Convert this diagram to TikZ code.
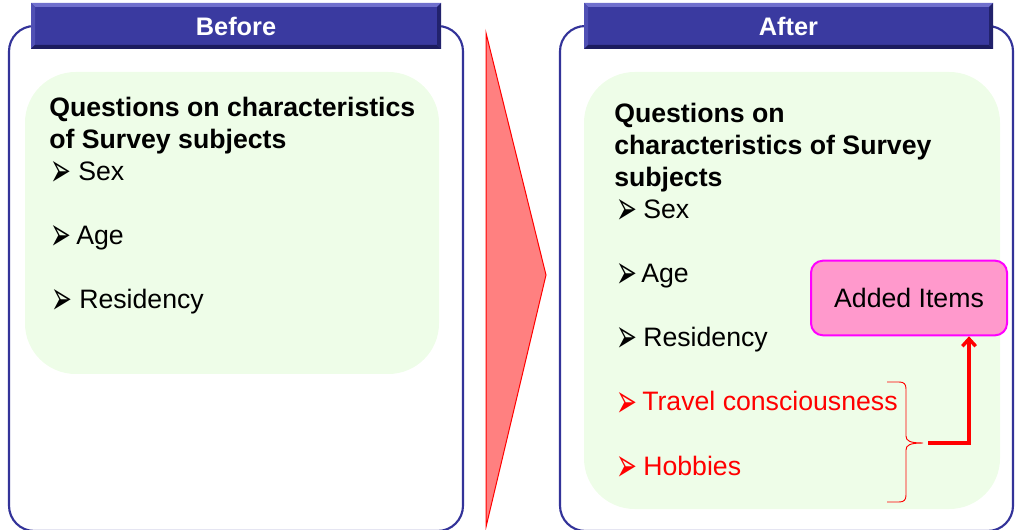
\documentclass[tikz,border=0pt]{standalone}
\usepackage{fontspec}
\setmainfont{Liberation Sans}
\newfontfamily\dejavu{DejaVu Sans}
\usetikzlibrary{arrows.meta}
\definecolor{navy}{RGB}{51,51,153}
\definecolor{hdrfill}{RGB}{58,58,160}
\definecolor{hdrlight}{RGB}{112,112,205}
\definecolor{hdrmid}{RGB}{80,80,180}
\definecolor{hdrdark}{RGB}{28,28,95}
\definecolor{greenbg}{RGB}{238,253,232}
\definecolor{pinkfill}{RGB}{255,153,204}
\definecolor{magentab}{RGB}{255,0,255}
\definecolor{arrowfill}{RGB}{255,128,128}
\newcommand\bulletglyph{\scalebox{0.85}[1.6]{➢}}
\begin{document}
\begin{tikzpicture}[x=0.75pt,y=-0.75pt,
  outerbox/.style={draw=navy,line width=1.6pt,rounded corners=19pt},
  greenbox/.style={fill=greenbg,rounded corners=38pt},
  hdr/.style={minimum width=307.5pt,minimum height=34.5pt,inner sep=0pt,
    fill=hdrfill,text=white,font=\bfseries\fontsize{19}{23}\selectfont,
    path picture={
      \fill[hdrlight] (path picture bounding box.north west) -- (path picture bounding box.north east)
        -- ([xshift=-3pt,yshift=-3pt]path picture bounding box.north east)
        -- ([xshift=3pt,yshift=-3pt]path picture bounding box.north west) -- cycle;
      \fill[hdrmid] (path picture bounding box.north west) -- ([xshift=3pt,yshift=-3pt]path picture bounding box.north west)
        -- ([xshift=3pt,yshift=3pt]path picture bounding box.south west) -- (path picture bounding box.south west) -- cycle;
      \fill[hdrdark] (path picture bounding box.south west) -- (path picture bounding box.south east)
        -- ([xshift=-3pt,yshift=3pt]path picture bounding box.south east)
        -- ([xshift=3pt,yshift=3pt]path picture bounding box.south west) -- cycle;
      \fill[hdrdark!80!hdrfill] (path picture bounding box.north east) -- ([xshift=-3pt,yshift=-3pt]path picture bounding box.north east)
        -- ([xshift=-3pt,yshift=3pt]path picture bounding box.south east) -- (path picture bounding box.south east) -- cycle;
    }},
  ttl/.style={anchor=base west,inner sep=0pt,font=\bfseries\fontsize{20}{24}\selectfont},
  itm/.style={anchor=base west,inner sep=0pt,font=\fontsize{20}{24}\selectfont},
  bul/.style={anchor=base west,inner sep=0pt,font=\dejavu\fontsize{22}{26}\selectfont},
  newitm/.style={text=red},
  addbox/.style={draw=magentab,fill=pinkfill,line width=1.5pt,rounded corners=9pt,
    minimum width=147pt,minimum height=56pt,inner sep=0pt,font=\fontsize{20}{24}\selectfont},
  bracestyle/.style={draw=red,line width=0.7pt},
  addarrow/.style={draw=red,line width=2.6pt,-{Straight Barb[length=5.5pt,width=10pt]}}
]
\useasboundingbox (0,0) rectangle (1016,530);

% outer panels
\draw[outerbox] (9,26) rectangle (463,531);
\draw[outerbox] (560,26) rectangle (1013,531);

% green content areas
\fill[greenbox] (25,72) rectangle (439,374);
\fill[greenbox] (584,72) rectangle (1000,509);

% headers
\node[hdr] (hbefore) at (236,26) {Before};
\node[hdr,minimum width=306.75pt] (hafter) at (788.5,26) {After};

% transition arrow
\filldraw[fill=arrowfill,draw=red,line width=0.75pt] (486,33) -- (546,275) -- (486,527) -- cycle;

% left content
\node[ttl] (lt1) at (49,117) {Questions on characteristics};
\node[ttl] (lt2) at (49,149) {of Survey subjects};
\node[bul] (lb1) at (50,187) {\bulletglyph};
\node[itm] (li1) at (78,181) {Sex};
\node[bul] (lb2) at (50,251) {\bulletglyph};
\node[itm] (li2) at (76,245) {Age};
\node[bul] (lb3) at (51,315) {\bulletglyph};
\node[itm] (li3) at (79,309) {Residency};

% right content
\node[ttl] (rt1) at (614,123) {Questions on};
\node[ttl] (rt2) at (614,155) {characteristics of Survey};
\node[ttl] (rt3) at (614,187) {subjects};
\node[bul] (rb1) at (616,225) {\bulletglyph};
\node[itm] (ri1) at (643,219) {Sex};
\node[bul] (rb2) at (616,289) {\bulletglyph};
\node[itm] (ri2) at (641,283) {Age};
\node[bul] (rb3) at (616,353) {\bulletglyph};
\node[itm] (ri3) at (643,347) {Residency};
\node[bul,newitm] (rb4) at (616,417) {\bulletglyph};
\node[itm,newitm] (ri4) at (642,411) {Travel consciousness};
\node[bul,newitm] (rb5) at (616,481) {\bulletglyph};
\node[itm,newitm] (ri5) at (643,475) {Hobbies};

% added items box
\node[addbox] (added) at (909,298) {Added Items};

% brace
\coordinate (brtip) at (923,443);
\draw[bracestyle] (887,382) -- (899,382) .. controls (904,382) and (906,384) .. (906,389)
  -- (906,436) .. controls (906,441) and (910,443) .. (brtip)
  .. controls (910,443) and (906,445) .. (906,450)
  -- (906,495) .. controls (906,500) and (904,502) .. (899,502) -- (887,502);

% connector to added items
\coordinate (arstart) at (928,443);
\coordinate (arx) at (969,0);
\draw[addarrow] (arstart) -| (arx |- added.south);
\end{tikzpicture}
\end{document}
